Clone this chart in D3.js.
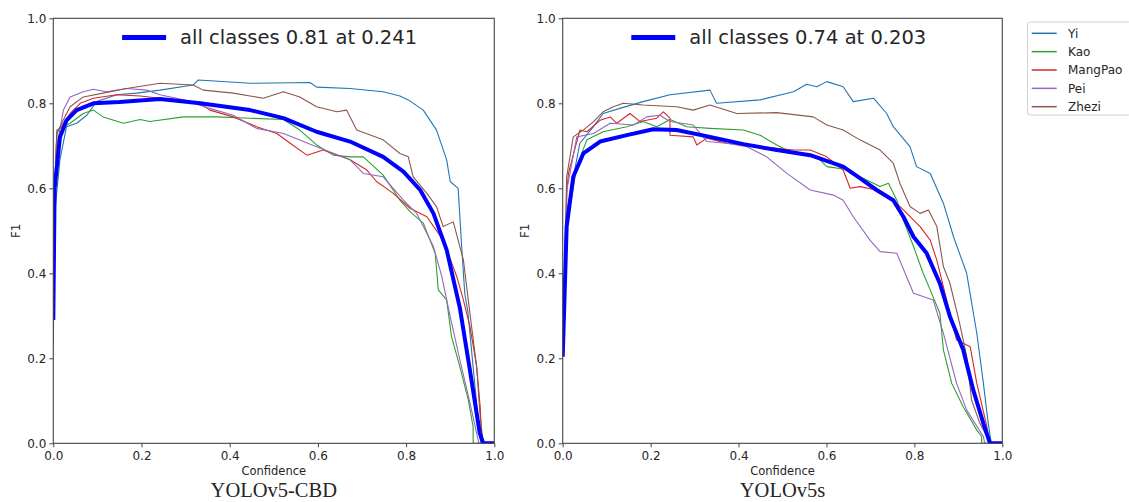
<!DOCTYPE html>
<html>
<head>
<meta charset="utf-8">
<script src="https://cdn.jsdelivr.net/npm/d3@7"></script>
<style>
  html, body { margin: 0; padding: 0; background: #fff; }
  svg { display: block; }
  text { font-family: "DejaVu Sans", sans-serif; fill: #262626; }
</style>
</head>
<body>
<svg id="chart" width="1129" height="502"></svg>
<script>
// ---------------- data ----------------
const classNames = ["Yi", "Kao", "MangPao", "Pei", "Zhezi"];
const classColors = ["#1f77b4", "#2ca02c", "#d62728", "#9467bd", "#8c564b"];
const xTicks = [0, 0.2, 0.4, 0.6, 0.8, 1.0];
const yTicks = [0, 0.2, 0.4, 0.6, 0.8, 1.0];
const panelCaptions = ["YOLOv5-CBD", "YOLOv5s"];
const allClassesLabels = ["all classes 0.81 at 0.241", "all classes 0.74 at 0.203"];

// Left panel (YOLOv5-CBD): [confidence, F1]
const leftYi = [[0,0.29],[0.004,0.549],[0.015,0.667],[0.03,0.745],[0.053,0.753],[0.076,0.772],[0.098,0.804],[0.144,0.82],[0.189,0.824],[0.242,0.831],[0.317,0.843],[0.329,0.855],[0.446,0.847],[0.582,0.849],[0.597,0.838],[0.673,0.835],[0.748,0.827],[0.786,0.817],[0.805,0.808],[0.839,0.784],[0.869,0.737],[0.892,0.667],[0.90,0.616],[0.918,0.60],[0.926,0.463],[0.933,0.353],[0.94,0.31],[0.967,0.016],[0.97,0],[1,0]];
const leftKao = [[0,0.29],[0.004,0.62],[0.008,0.737],[0.038,0.753],[0.068,0.776],[0.091,0.784],[0.113,0.768],[0.159,0.753],[0.197,0.762],[0.219,0.757],[0.295,0.768],[0.371,0.768],[0.446,0.765],[0.522,0.762],[0.559,0.737],[0.597,0.702],[0.635,0.678],[0.673,0.674],[0.703,0.674],[0.748,0.631],[0.786,0.572],[0.809,0.545],[0.839,0.518],[0.866,0.447],[0.873,0.361],[0.892,0.337],[0.903,0.251],[0.922,0.18],[0.941,0.102],[0.952,0.039],[0.952,0],[1,0]];
const leftMangPao = [[0,0.29],[0.004,0.62],[0.008,0.73],[0.038,0.776],[0.061,0.80],[0.091,0.812],[0.144,0.82],[0.197,0.817],[0.242,0.812],[0.295,0.808],[0.333,0.80],[0.355,0.784],[0.408,0.768],[0.461,0.745],[0.507,0.729],[0.537,0.706],[0.575,0.678],[0.612,0.69],[0.673,0.667],[0.711,0.643],[0.733,0.616],[0.771,0.588],[0.809,0.553],[0.847,0.533],[0.884,0.478],[0.915,0.392],[0.93,0.337],[0.945,0.274],[0.96,0.18],[0.968,0.086],[0.971,0.024],[0.975,0],[1,0]];
const leftPei = [[0,0.29],[0.004,0.6],[0.008,0.70],[0.023,0.784],[0.038,0.815],[0.068,0.827],[0.091,0.833],[0.121,0.827],[0.166,0.835],[0.212,0.831],[0.242,0.82],[0.295,0.808],[0.355,0.788],[0.408,0.772],[0.461,0.741],[0.522,0.729],[0.597,0.698],[0.673,0.667],[0.703,0.635],[0.748,0.627],[0.794,0.572],[0.824,0.541],[0.862,0.463],[0.881,0.392],[0.90,0.298],[0.922,0.196],[0.945,0.094],[0.96,0.024],[0.965,0],[1,0]];
const leftZhezi = [[0,0.23],[0.004,0.6],[0.008,0.73],[0.038,0.792],[0.068,0.815],[0.113,0.824],[0.166,0.835],[0.242,0.847],[0.317,0.843],[0.34,0.831],[0.408,0.824],[0.476,0.812],[0.522,0.827],[0.559,0.815],[0.597,0.792],[0.643,0.78],[0.665,0.784],[0.688,0.737],[0.748,0.714],[0.786,0.682],[0.805,0.674],[0.816,0.627],[0.847,0.588],[0.869,0.557],[0.884,0.51],[0.907,0.521],[0.93,0.431],[0.941,0.337],[0.96,0.18],[0.968,0.063],[0.975,0],[1,0]];
const leftAll = [[0,0.29],[0.003,0.6],[0.015,0.72],[0.03,0.76],[0.053,0.784],[0.091,0.80],[0.15,0.803],[0.242,0.81],[0.333,0.80],[0.446,0.784],[0.522,0.765],[0.597,0.733],[0.673,0.71],[0.748,0.674],[0.794,0.639],[0.832,0.596],[0.862,0.541],[0.892,0.455],[0.922,0.318],[0.945,0.17],[0.967,0.024],[0.975,0],[1,0]];

// Right panel (YOLOv5s)
const rightYi = [[0,0.204],[0.01,0.55],[0.039,0.706],[0.07,0.745],[0.092,0.776],[0.13,0.788],[0.183,0.804],[0.244,0.82],[0.335,0.831],[0.35,0.80],[0.449,0.808],[0.525,0.827],[0.555,0.845],[0.578,0.839],[0.601,0.851],[0.638,0.839],[0.661,0.804],[0.707,0.812],[0.737,0.776],[0.752,0.745],[0.79,0.698],[0.805,0.651],[0.836,0.635],[0.866,0.565],[0.889,0.486],[0.919,0.40],[0.942,0.259],[0.957,0.141],[0.968,0.047],[0.975,0],[1,0]];
const rightKao = [[0,0.204],[0.009,0.51],[0.032,0.651],[0.055,0.714],[0.092,0.733],[0.146,0.745],[0.183,0.757],[0.214,0.745],[0.244,0.762],[0.282,0.745],[0.335,0.741],[0.411,0.737],[0.449,0.725],[0.487,0.702],[0.525,0.682],[0.578,0.674],[0.601,0.651],[0.654,0.643],[0.676,0.627],[0.722,0.604],[0.741,0.612],[0.76,0.572],[0.775,0.525],[0.798,0.463],[0.82,0.40],[0.836,0.361],[0.858,0.306],[0.866,0.22],[0.885,0.141],[0.911,0.086],[0.942,0.031],[0.953,0.016],[0.953,0],[1,0]];
const rightMangPao = [[0,0.204],[0.009,0.588],[0.013,0.635],[0.039,0.737],[0.055,0.733],[0.085,0.76],[0.108,0.768],[0.123,0.753],[0.153,0.776],[0.176,0.757],[0.214,0.765],[0.229,0.78],[0.244,0.765],[0.244,0.725],[0.297,0.721],[0.305,0.702],[0.328,0.718],[0.373,0.706],[0.449,0.698],[0.525,0.69],[0.563,0.69],[0.601,0.674],[0.638,0.643],[0.654,0.60],[0.676,0.604],[0.714,0.596],[0.752,0.572],[0.775,0.549],[0.813,0.51],[0.836,0.478],[0.851,0.431],[0.896,0.243],[0.927,0.227],[0.942,0.141],[0.965,0.039],[0.97,0],[1,0]];
const rightPei = [[0,0.204],[0.01,0.6],[0.032,0.721],[0.07,0.729],[0.108,0.753],[0.161,0.749],[0.191,0.768],[0.221,0.772],[0.244,0.757],[0.297,0.749],[0.328,0.71],[0.373,0.706],[0.419,0.698],[0.464,0.674],[0.51,0.635],[0.563,0.596],[0.616,0.584],[0.638,0.572],[0.661,0.533],[0.699,0.478],[0.722,0.451],[0.76,0.447],[0.798,0.353],[0.843,0.337],[0.866,0.259],[0.896,0.141],[0.919,0.078],[0.957,0.016],[0.96,0],[1,0]];
const rightZhezi = [[0,0.204],[0.009,0.627],[0.024,0.721],[0.047,0.737],[0.07,0.757],[0.092,0.78],[0.115,0.792],[0.138,0.80],[0.183,0.796],[0.259,0.792],[0.297,0.784],[0.335,0.796],[0.396,0.776],[0.487,0.778],[0.57,0.768],[0.601,0.749],[0.638,0.737],[0.676,0.714],[0.722,0.69],[0.752,0.659],[0.767,0.612],[0.79,0.557],[0.813,0.541],[0.832,0.549],[0.851,0.51],[0.866,0.416],[0.881,0.376],[0.903,0.282],[0.919,0.204],[0.93,0.102],[0.949,0.047],[0.965,0.016],[0.97,0],[1,0]];
const rightAll = [[0,0.204],[0.009,0.51],[0.024,0.627],[0.047,0.682],[0.085,0.71],[0.146,0.725],[0.206,0.739],[0.259,0.737],[0.335,0.721],[0.411,0.704],[0.487,0.69],[0.563,0.678],[0.638,0.651],[0.676,0.624],[0.714,0.596],[0.752,0.572],[0.775,0.533],[0.798,0.486],[0.828,0.447],[0.858,0.376],[0.881,0.298],[0.911,0.22],[0.934,0.125],[0.957,0.047],[0.972,0],[1,0]];

// ---------------- layout ----------------
const panels = [
  { left: 53.3, right: 494.3, classes: [leftYi, leftKao, leftMangPao, leftPei, leftZhezi], all: leftAll, caption: panelCaptions[0], label: allClassesLabels[0], ylabelX: 16 },
  { left: 562.7, right: 1002.3, classes: [rightYi, rightKao, rightMangPao, rightPei, rightZhezi], all: rightAll, caption: panelCaptions[1], label: allClassesLabels[1], ylabelX: 525 }
];
const plotTop = 18.3, plotBottom = 443.3;
const svg = d3.select("#chart");
const spine = "#444";

panels.forEach((p, i) => {
  const x = d3.scaleLinear().domain([0, 1]).range([p.left, p.right]);
  const y = d3.scaleLinear().domain([0, 1]).range([plotBottom, plotTop]);
  const g = svg.append("g");

  const clipId = "clip" + i;
  svg.append("clipPath").attr("id", clipId)
    .append("rect").attr("x", p.left).attr("y", plotTop).attr("width", p.right - p.left).attr("height", plotBottom - plotTop);

  const line = d3.line().x(d => x(d[0])).y(d => y(d[1]));
  const lines = g.append("g").attr("clip-path", `url(#${clipId})`);
  p.classes.forEach((data, k) => {
    lines.append("path").datum(data).attr("d", line)
      .attr("fill", "none").attr("stroke", classColors[k]).attr("stroke-width", 1.1)
      .attr("stroke-linejoin", "round");
  });
  lines.append("path").datum(p.all).attr("d", line)
    .attr("fill", "none").attr("stroke", "#0000ff").attr("stroke-width", 4)
    .attr("stroke-linejoin", "round");

  // axes
  const xAxis = g.append("g").attr("transform", `translate(0,${plotBottom})`)
    .call(d3.axisBottom(x).tickValues(xTicks).tickFormat(d3.format(".1f")).tickSize(4).tickPadding(4));
  const yAxis = g.append("g").attr("transform", `translate(${p.left},0)`)
    .call(d3.axisLeft(y).tickValues(yTicks).tickFormat(d3.format(".1f")).tickSize(4).tickPadding(3));
  [xAxis, yAxis].forEach(a => {
    a.select(".domain").remove();
    a.selectAll(".tick line").attr("stroke", spine).attr("stroke-width", 1);
    a.selectAll(".tick text").style("font-family", "DejaVu Sans").style("font-size", "12px").attr("fill", "#262626");
  });

  // frame
  g.append("rect").attr("x", p.left).attr("y", plotTop).attr("width", p.right - p.left).attr("height", plotBottom - plotTop)
    .attr("fill", "none").attr("stroke", spine).attr("stroke-width", 1.1);

  // in-plot legend
  const lx = x(0.156), ly = y(0.955);
  g.append("line").attr("x1", lx).attr("x2", lx + 44).attr("y1", ly).attr("y2", ly)
    .attr("stroke", "#0000ff").attr("stroke-width", 5);
  g.append("text").attr("x", lx + 58).attr("y", ly).attr("dy", "0.35em")
    .style("font-size", "19.5px").text(p.label);

  // axis labels
  g.append("text").attr("x", (p.left + p.right) / 2).attr("y", 475).attr("text-anchor", "middle")
    .style("font-size", "11.5px").text("Confidence");
  g.append("text").attr("transform", `translate(${p.ylabelX + 4},${(plotTop + plotBottom) / 2}) rotate(-90)`)
    .attr("text-anchor", "middle").style("font-size", "12px").text("F1");

  // caption
  g.append("text").attr("x", (p.left + p.right) / 2).attr("y", 497).attr("text-anchor", "middle")
    .style("font-family", "'Liberation Serif', 'Times New Roman', serif").style("font-size", "20.5px")
    .attr("fill", "#111").text(p.caption);
});

// right legend
const leg = svg.append("g");
leg.append("rect").attr("x", 1027.5).attr("y", 22).attr("width", 104).attr("height", 93).attr("rx", 3)
  .attr("fill", "#fff").attr("stroke", "#d0d0d0").attr("stroke-width", 1);
const legY = d3.scalePoint().domain(classNames).range([33.3, 106.7]);
classNames.forEach((name, k) => {
  leg.append("line").attr("x1", 1031.7).attr("x2", 1056.7).attr("y1", legY(name)).attr("y2", legY(name))
    .attr("stroke", classColors[k]).attr("stroke-width", 1.5);
  leg.append("text").attr("x", 1068).attr("y", legY(name)).attr("dy", "0.35em")
    .style("font-size", "12px").text(name);
});
</script>
</body>
</html>
